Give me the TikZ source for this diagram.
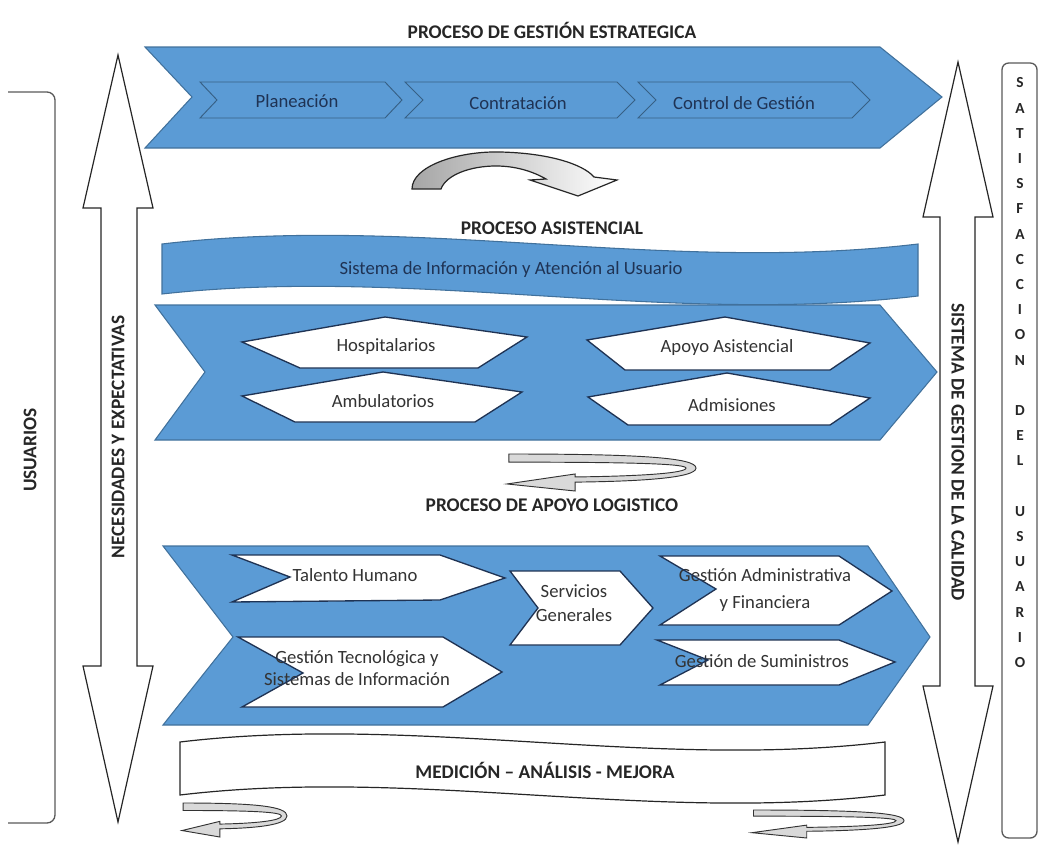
\documentclass[tikz,border=0pt]{standalone}
\usepackage{fontspec}
\setmainfont{Carlito}
\usetikzlibrary{shapes.geometric}
\definecolor{cblue}{HTML}{5B9BD5}
\definecolor{cedge}{HTML}{41719C}
\definecolor{navy}{HTML}{1F3354}
\begin{document}
\begin{tikzpicture}[x=0.75pt,y=-0.75pt, line join=miter,
  band/.style={fill=cblue, draw=cedge, line width=0.8pt},
  innerchev/.style={fill=cblue, draw=cedge!85!black, line width=0.7pt},
  whitebox/.style={fill=white, draw=navy, line width=1pt},
  whitechev/.style={draw=navy, line width=1pt},
  dblarrow/.style={fill=white, draw=black!85, line width=0.9pt},
  frame/.style={draw=black!65, line width=1pt},
  title/.style={font=\fontsize{14.5}{17}\selectfont\bfseries, text=black!85},
  lbl/.style={font=\fontsize{14}{17}\selectfont, text=navy},
  wlbl/.style={font=\fontsize{14}{17}\selectfont, text=black!80, align=center},
  swirl/.style={fill=black!15, draw=black!80, line width=0.7pt},
  satl/.style={font=\fontsize{11.5}{13}\selectfont\bfseries, text=black!85},
]
\useasboundingbox (0,0) rectangle (1058,846);

% ---------- side frames ----------
\draw[frame, rounded corners=6] (8,92) -- (55,92) -- (55,823) -- (8,823);
\draw[frame, rounded corners=5] (1002,63) rectangle (1037,838);

% ---------- double arrows ----------
\draw[dblarrow] (118,55) -- (153,208) -- (137,208) -- (137,666) -- (153,666) -- (118,822)
  -- (83,666) -- (101,666) -- (101,208) -- (83,208) -- cycle;
\draw[dblarrow] (958,62) -- (993,217) -- (975,217) -- (975,686) -- (993,686) -- (958,842)
  -- (923,686) -- (940,686) -- (940,217) -- (923,217) -- cycle;

% ---------- strategic process ----------
\node[title] (t1) at (552,30) {PROCESO DE GESTIÓN ESTRATEGICA};
\draw[band] (145,47) -- (880,47) -- (942,97) -- (880,148) -- (145,148) -- (192,97) -- cycle;
\draw[innerchev] (200,82) -- (385,82) -- (402,100) -- (385,118) -- (200,118) -- (217,100) -- cycle;
\draw[innerchev] (405,82) -- (617,82) -- (635,100) -- (617,118) -- (405,118) -- (423,100) -- cycle;
\draw[innerchev] (638,82) -- (852,82) -- (870,100) -- (852,118) -- (638,118) -- (656,100) -- cycle;
\node[lbl] (plan) at (297,101) {Planeación};
\node[lbl] (contr) at (518,103) {Contratación};
\node[lbl] (ctrl) at (744,103) {Control de Gestión};

% curved gray arrow
\shade[left color=black!35, right color=white, draw=black!85, line width=0.9pt]
  (412,189) .. controls (412,166) and (458,151) .. (500,152)
  .. controls (548,153) and (583,164) .. (594,177) -- (617,180) -- (578,196) -- (530,180) -- (546,179)
  .. controls (532,171) and (515,166) .. (496,166)
  .. controls (470,166) and (446,175) .. (441,189) -- cycle;

% ---------- assistance process ----------
\node[title] (t2) at (552,228) {PROCESO ASISTENCIAL};
\draw[band] (162,244) .. controls (415,214) and (665,274) .. (918,244) -- (918,296)
  .. controls (665,326) and (415,266) .. (162,294) -- cycle;
\node[lbl] (siau) at (511,270) {Sistema de Información y Atención al Usuario};

\draw[band] (155,305) -- (880,305) -- (937,372) -- (880,440) -- (155,440) -- (205,372) -- cycle;
\draw[whitebox] (242,342) -- (385,317) -- (527,337) -- (478,368) -- (300,368) -- cycle;
\draw[whitebox] (242,396) -- (383,372) -- (522,392) -- (475,422) -- (295,422) -- cycle;
\draw[whitebox] (587,340) -- (725,317) -- (870,343) -- (830,370) -- (625,370) -- cycle;
\draw[whitebox] (588,397) -- (727,373) -- (870,398) -- (830,425) -- (628,425) -- cycle;
\node[wlbl] (hosp) at (386,347) {Hospitalarios};
\node[wlbl] (amb) at (383,401) {Ambulatorios};
\node[wlbl] (apoyo) at (727,348) {Apoyo Asistencial};
\node[wlbl] (adm) at (732,405) {Admisiones};

% swirl arrow between processes
\begin{scope}[shift={(507,454)}, xscale=189, yscale=37]
\draw[swirl] (0.01,0) .. controls (0.7,0) and (1,0.1) .. (1,0.38)
  .. controls (1,0.65) and (0.7,0.74) .. (0.36,0.76) -- (0.36,1) -- (0,0.81) -- (0.36,0.54) -- (0.36,0.62)
  .. controls (0.7,0.6) and (0.947,0.52) .. (0.947,0.38)
  .. controls (0.947,0.27) and (0.7,0.22) .. (0.01,0.22) -- cycle;
\end{scope}

% ---------- logistic process ----------
\node[title] (t3) at (552,505) {PROCESO DE APOYO LOGISTICO};
\draw[band] (163,546) -- (868,546) -- (930,637) -- (868,725) -- (163,725) -- (233,637) -- cycle;
\fill[white] (232,555) -- (440,555) -- (505,578) -- (440,600) -- (232,602) -- (290,577) -- cycle;
\fill[white] (238,637) -- (443,637) -- (502,672) -- (443,707) -- (242,707) -- (303,673) -- cycle;
\fill[white] (510,571) -- (620,571) -- (653,608) -- (620,645) -- (510,645) -- (538,608) -- cycle;
\fill[white] (660,556) -- (839,556) -- (892,591) -- (839,625) -- (660,625) -- (716,589) -- cycle;
\fill[white] (657,640) -- (839,640) -- (895,662) -- (839,685) -- (660,685) -- (708,660) -- cycle;
\node[wlbl] (tal) at (355,575) {Talento Humano};
\node[wlbl] (gtec) at (357,668) {Gestión Tecnológica y\\Sistemas de Información};
\node[wlbl, font=\fontsize{14}{18}\selectfont] (serv) at (574,603) {Servicios\\Generales};
\node[wlbl, font=\fontsize{14}{20}\selectfont] (gadm) at (765,590) {Gestión Administrativa\\y Financiera};
\node[wlbl] (gsum) at (762,661) {Gestión de Suministros};
\draw[whitechev] (232,555) -- (440,555) -- (505,578) -- (440,600) -- (232,602) -- (290,577) -- cycle;
\draw[whitechev] (238,637) -- (443,637) -- (502,672) -- (443,707) -- (242,707) -- (303,673) -- cycle;
\draw[whitechev] (510,571) -- (620,571) -- (653,608) -- (620,645) -- (510,645) -- (538,608) -- cycle;
\draw[whitechev] (660,556) -- (839,556) -- (892,591) -- (839,625) -- (660,625) -- (716,589) -- cycle;
\draw[whitechev] (657,640) -- (839,640) -- (895,662) -- (839,685) -- (660,685) -- (708,660) -- cycle;

% ---------- measurement band ----------
\draw[fill=white, draw=black!85, line width=0.9pt] (180,742) .. controls (415,714) and (650,770) .. (885,742)
  -- (885,795) .. controls (650,823) and (415,767) .. (180,795) -- cycle;
\node[title] (med) at (545,770) {MEDICIÓN – ANÁLISIS - MEJORA};

\begin{scope}[shift={(182,803)}, xscale=105, yscale=34]
\draw[swirl] (0.01,0) .. controls (0.7,0) and (1,0.1) .. (1,0.38)
  .. controls (1,0.65) and (0.7,0.74) .. (0.36,0.76) -- (0.36,1) -- (0,0.81) -- (0.36,0.54) -- (0.36,0.62)
  .. controls (0.7,0.6) and (0.947,0.52) .. (0.947,0.38)
  .. controls (0.947,0.27) and (0.7,0.22) .. (0.01,0.22) -- cycle;
\end{scope}
\begin{scope}[shift={(752,810)}, xscale=152, yscale=28]
\draw[swirl] (0.01,0) .. controls (0.7,0) and (1,0.1) .. (1,0.38)
  .. controls (1,0.65) and (0.7,0.74) .. (0.36,0.76) -- (0.36,1) -- (0,0.81) -- (0.36,0.54) -- (0.36,0.62)
  .. controls (0.7,0.6) and (0.947,0.52) .. (0.947,0.38)
  .. controls (0.947,0.27) and (0.7,0.22) .. (0.01,0.22) -- cycle;
\end{scope}

% ---------- vertical texts ----------
\node[title] at (30,450) [rotate=90] (usu) {USUARIOS};
\node[title, rotate=90] (nec) at (118,437) {NECESIDADES Y EXPECTATIVAS};
\node[title, rotate=-90] (sgc) at (958,452) {SISTEMA DE GESTION DE LA CALIDAD};
\foreach \l [count=\i from 0] in {S,A,T,I,S,F,A,C,C,I,O,N,{},D,E,L,{},U,S,U,A,R,I,O}
  \node[satl] (sat\i) at (1020,{83+25.2*\i}) {\l};
\end{tikzpicture}
\end{document}
